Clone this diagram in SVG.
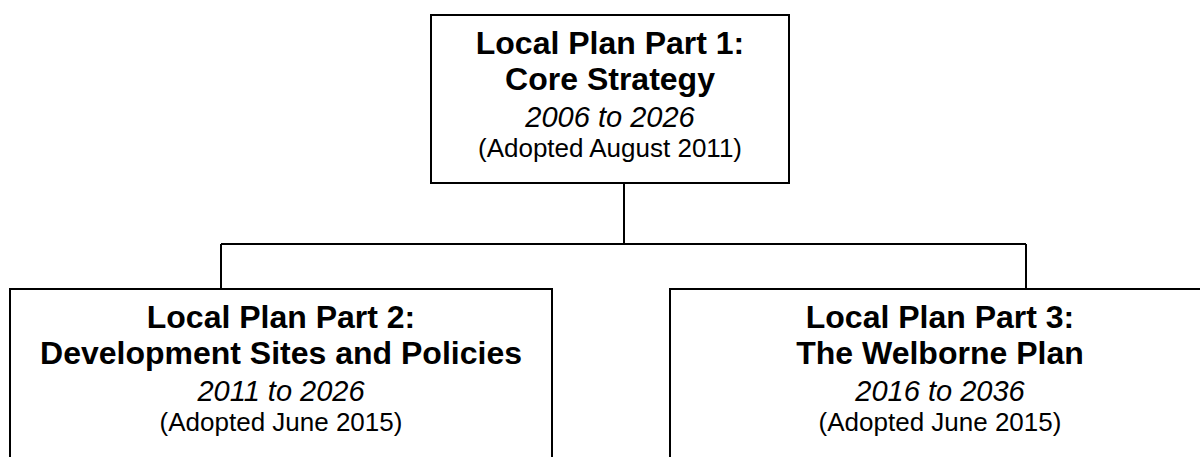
<svg xmlns="http://www.w3.org/2000/svg" width="1200" height="457" viewBox="0 0 1200 457">
<style>
.box{fill:#fff;stroke:#000;stroke-width:2}
.con{fill:none;stroke:#000;stroke-width:2}
text{font-family:"Liberation Sans",Arial,sans-serif;text-anchor:middle;fill:#000}
.b{font-weight:bold;font-size:32px}
.i{font-style:italic;font-size:29px}
.r{font-size:26px}
</style>
<rect width="1200" height="457" fill="#fff"/>
<g id="connectors">
<path class="con" d="M624 183 V244 M221 244 H1026 M221 244 V289 M1026 244 V289"/>
</g>
<g id="part1">
<rect class="box" x="431" y="15" width="358" height="168"/>
<text class="b" x="610" y="54">Local Plan Part 1:</text>
<text class="b" x="610" y="90">Core Strategy</text>
<text class="i" x="610" y="127">2006 to 2026</text>
<text class="r" x="610" y="157">(Adopted August 2011)</text>
</g>
<g id="part2">
<rect class="box" x="10" y="289" width="542" height="200"/>
<text class="b" x="281" y="328">Local Plan Part 2:</text>
<text class="b" x="281" y="364">Development Sites and Policies</text>
<text class="i" x="281" y="401">2011 to 2026</text>
<text class="r" x="281" y="431">(Adopted June 2015)</text>
</g>
<g id="part3">
<rect class="box" x="670" y="289" width="560" height="200"/>
<text class="b" x="940" y="328">Local Plan Part 3:</text>
<text class="b" x="940" y="364">The Welborne Plan</text>
<text class="i" x="940" y="401">2016 to 2036</text>
<text class="r" x="940" y="431">(Adopted June 2015)</text>
</g>
</svg>
